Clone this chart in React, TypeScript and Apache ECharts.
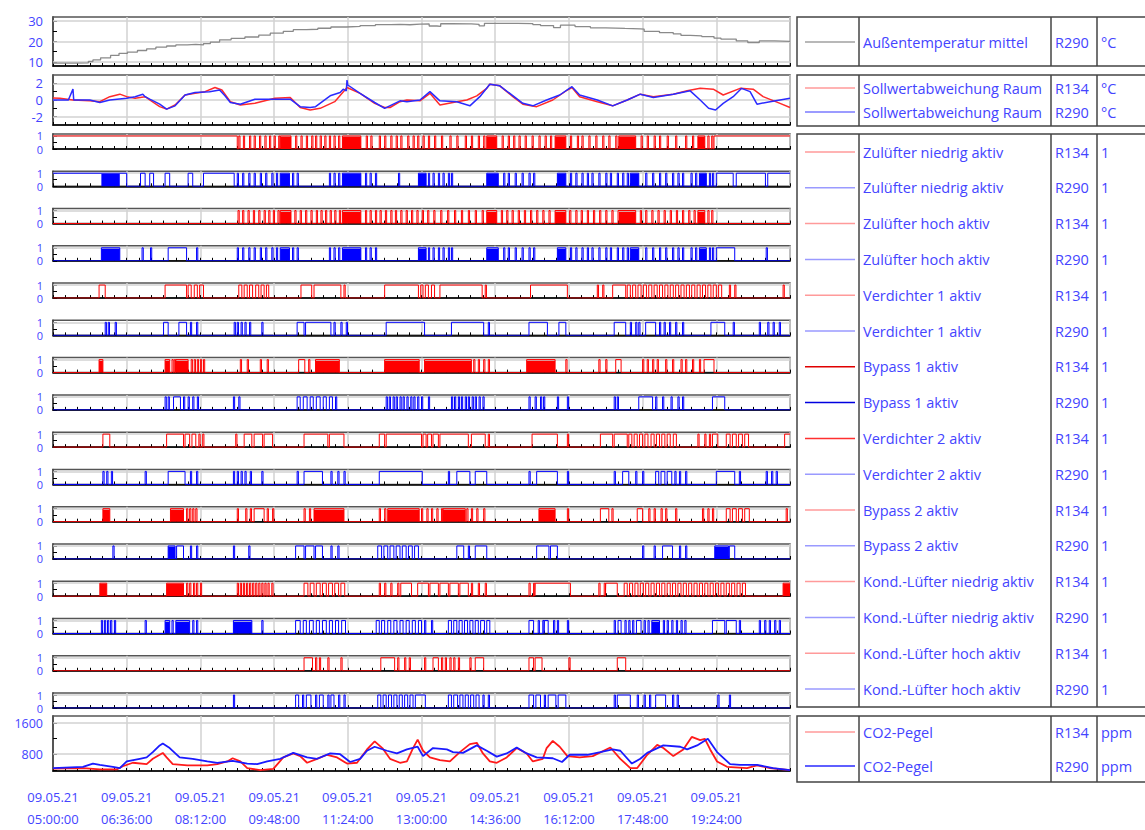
import { useEffect, useRef } from "react";
import * as echarts from "echarts";

// ---------- axis / label data ----------
const DATE_LABEL = "09.05.21";
const TIME_LABELS = ["05:00:00", "06:36:00", "08:12:00", "09:48:00", "11:24:00", "13:00:00", "14:36:00", "16:12:00", "17:48:00", "19:24:00", "21:00:00"];
const X_MIN = 0; // minutes after 05:00
const X_MAX = 960;
const X_STEP = 96;

// ---------- analog series: [minutes after 05:00, value] ----------
const TEMP_OUT = [[0, 9.4], [30, 9.5], [46, 10.2], [52, 11], [62, 12], [75, 13.2], [86, 14.2], [97, 14.8], [110, 15.6], [122, 16.4], [134, 17.2], [148, 17.8], [160, 18.3], [175, 18.6], [186, 18.3], [196, 19], [205, 19.7], [217, 20.8], [232, 21.5], [250, 22.2], [268, 23.1], [283, 24.1], [300, 25], [313, 25.8], [330, 26], [345, 26.5], [362, 27.1], [382, 27.4], [400, 27.8], [420, 28.3], [440, 28.4], [452, 28.2], [465, 28.5], [478, 28.6], [490, 27.6], [500, 27.4], [505, 28.7], [520, 28.6], [545, 28.4], [555, 27.7], [562, 28.9], [585, 28.9], [605, 28.8], [625, 28.3], [635, 27.8], [652, 26.8], [661, 28], [680, 27.3], [700, 26.7], [720, 26.4], [745, 26.2], [765, 26.1], [770, 25], [790, 24.3], [808, 23.7], [818, 23], [830, 22.8], [845, 22.4], [861, 21.7], [870, 21.2], [890, 20.3], [905, 19.5], [920, 20.3], [940, 20.1], [960, 20.2]];

const DEV_R134 = [[0, 0.24], [9, 0.2], [26, 0], [48, -0.1], [61, -0.2], [74, 0.4], [87, 0.7], [96, 0.4], [107, 0.2], [120, 0.4], [126, 0], [139, -0.8], [148, -1.1], [159, -0.6], [172, 0.6], [185, 0.8], [198, 1.0], [211, 1.5], [220, 1.2], [231, -0.2], [244, -0.6], [263, -0.4], [289, 0.2], [309, 0.3], [322, -0.9], [335, -1.2], [348, -1.0], [367, -0.2], [383, 1.5], [400, 0.8], [419, -0.4], [432, -0.9], [439, -0.9], [452, -0.2], [461, 0], [478, -0.1], [491, 0.8], [504, -0.6], [526, -0.2], [539, 0], [552, 0.5], [565, 1.4], [569, 1.9], [582, 1.7], [599, 0.4], [612, -0.5], [630, -0.8], [651, 0], [670, 1.2], [676, 1.5], [686, 0.4], [709, -0.2], [729, -0.7], [748, 0], [765, 0.7], [782, 0.4], [808, 0.7], [826, 1.1], [843, 1.4], [860, 1.3], [873, 0.6], [895, 1.4], [912, 1.3], [925, 0.4], [947, -0.4], [960, -0.9]];

const DEV_R290 = [[0, 0], [20, 0], [26, 1.3], [27, 0], [48, 0], [61, -0.3], [74, 0], [96, 0.2], [107, 0.4], [117, 0.7], [120, 0.4], [126, 0.1], [139, -0.5], [148, -1.1], [159, -0.7], [172, 0.6], [185, 0.9], [204, 1.0], [217, 1.2], [224, 0.5], [231, -0.3], [244, -0.5], [263, 0.1], [289, 0.1], [309, 0.1], [322, -0.8], [335, -0.9], [342, -0.8], [361, 0.5], [374, 0.9], [378, 1.3], [382, 1.1], [383, 2.4], [384, 1.8], [400, 0.8], [419, -0.3], [432, -1.0], [452, -0.1], [461, -0.2], [478, 0], [491, 1.0], [504, -0.1], [526, -0.2], [543, -0.7], [556, 0.4], [569, 1.9], [582, 1.7], [612, -0.4], [625, -0.7], [643, 0], [660, 0.6], [676, 1.6], [686, 0.6], [709, 0], [729, -0.7], [748, 0], [765, 0.7], [782, 0.3], [808, 0.7], [830, 1.1], [843, 0], [854, -1.0], [863, -1.2], [873, -0.4], [886, 0.4], [897, 1.4], [908, 1.0], [917, -0.5], [934, -0.2], [960, 0.2]];

const CO2_R134 = [[0, 431], [39, 445], [61, 410], [83, 410], [91, 492], [104, 581], [122, 547], [130, 683], [139, 786], [143, 834], [148, 718], [156, 547], [175, 513], [201, 513], [214, 547], [227, 615], [234, 697], [244, 615], [253, 445], [270, 390], [287, 424], [300, 718], [313, 820], [322, 752], [331, 581], [344, 683], [357, 786], [370, 718], [383, 560], [396, 581], [409, 923], [419, 1128], [429, 958], [439, 683], [452, 581], [461, 615], [469, 958], [475, 1175], [482, 889], [491, 718], [504, 649], [517, 615], [530, 855], [543, 1060], [552, 1094], [560, 820], [569, 615], [578, 581], [591, 718], [604, 958], [617, 820], [625, 615], [638, 683], [643, 958], [651, 1142], [660, 992], [670, 752], [686, 718], [703, 752], [726, 972], [739, 683], [752, 445], [761, 445], [774, 786], [787, 1040], [795, 958], [808, 752], [821, 923], [832, 1244], [843, 1162], [849, 1196], [856, 923], [865, 615], [878, 477], [904, 445], [917, 513], [934, 445], [960, 390]];

const CO2_R290 = [[0, 445], [39, 477], [52, 560], [61, 526], [78, 477], [87, 445], [96, 615], [113, 683], [122, 718], [130, 855], [139, 1026], [143, 1073], [152, 958], [165, 718], [182, 683], [201, 615], [214, 581], [234, 629], [253, 560], [266, 547], [279, 615], [296, 683], [313, 834], [331, 718], [344, 683], [361, 820], [374, 800], [387, 601], [400, 683], [409, 889], [419, 992], [435, 889], [448, 820], [461, 923], [475, 992], [482, 752], [495, 958], [513, 923], [521, 855], [534, 834], [552, 1026], [565, 889], [578, 738], [591, 820], [604, 972], [617, 820], [630, 718], [651, 697], [663, 601], [673, 786], [696, 786], [713, 855], [729, 923], [739, 889], [754, 560], [765, 683], [774, 834], [795, 1026], [817, 992], [826, 923], [839, 1026], [853, 1196], [865, 855], [882, 547], [895, 526], [917, 526], [938, 445], [960, 390]];

// ---------- binary series: on-intervals, short pulses (start times), dense bursts ----------
const ZUL_NIEDRIG_R134 = {
  on: [[0, 240], [861, 960]],
  pulses: [242, 248, 256, 262, 269, 276, 282, 288, 294, 316, 323, 330, 337, 342, 348, 354, 360, 366, 372, 408, 414, 425, 432, 440, 447, 453, 462, 469, 475, 482, 489, 497, 506, 517, 526, 537, 545, 554, 561, 585, 593, 600, 607, 615, 624, 633, 641, 648, 674, 683, 689, 698, 707, 716, 724, 733, 766, 774, 783, 790, 800, 811, 824, 833, 853, 858],
  dense: [[296, 310], [377, 401], [565, 578], [654, 668], [737, 759], [840, 849]],
};
const ZUL_NIEDRIG_R290 = {
  on: [[0, 63], [87, 96], [114, 120], [126, 131], [146, 152], [176, 182], [196, 236], [864, 886], [890, 928], [931, 960]],
  pulses: [240, 247, 255, 262, 270, 277, 285, 291, 312, 318, 360, 366, 372, 407, 413, 420, 450, 489, 495, 502, 508, 515, 519, 587, 593, 602, 611, 620, 626, 674, 681, 689, 696, 702, 711, 720, 726, 735, 742, 748, 772, 781, 790, 798, 807, 814, 820, 831, 837, 855, 859],
  dense: [[63, 87], [296, 308], [377, 401], [476, 486], [565, 580], [657, 668], [752, 763], [842, 851]],
};
const ZUL_HOCH_R134 = {
  on: [],
  pulses: [241, 247, 254, 261, 268, 275, 281, 287, 293, 315, 322, 329, 336, 343, 349, 355, 361, 367, 373, 407, 413, 420, 426, 433, 440, 446, 453, 460, 467, 474, 481, 488, 496, 505, 514, 523, 532, 541, 550, 559, 584, 591, 598, 606, 614, 622, 630, 638, 646, 673, 681, 688, 696, 704, 712, 720, 728, 736, 765, 772, 780, 788, 796, 804, 812, 820, 828, 835, 853, 858],
  dense: [[296, 310], [377, 401], [565, 578], [654, 668], [737, 759], [840, 849]],
};
const ZUL_HOCH_R290 = {
  on: [[150, 174], [864, 888]],
  pulses: [116, 127, 187, 240, 247, 255, 262, 270, 277, 285, 291, 312, 318, 360, 366, 372, 407, 413, 420, 489, 495, 502, 508, 515, 519, 587, 593, 602, 611, 620, 626, 674, 681, 689, 696, 702, 711, 720, 726, 735, 742, 748, 772, 781, 790, 798, 807, 814, 820, 831, 837, 855, 859, 929],
  dense: [[63, 87], [296, 308], [377, 401], [476, 486], [565, 580], [657, 668], [752, 763], [842, 851]],
};
const VERD1_R134 = {
  on: [[60, 68], [146, 174], [176, 180], [184, 188], [191, 196], [242, 246], [249, 253], [256, 260], [264, 268], [271, 275], [278, 281], [323, 337], [340, 375], [432, 476], [479, 482], [485, 489], [493, 497], [504, 559], [622, 670], [729, 746], [748, 752], [755, 759], [762, 766], [769, 773], [776, 780], [783, 787], [790, 794], [797, 801], [804, 808], [811, 815], [818, 822], [825, 829], [832, 836], [839, 843], [846, 850], [853, 857], [860, 864], [867, 871]],
  pulses: [379, 563, 709, 716, 881, 888, 951],
  dense: [],
};
const VERD1_R290 = {
  on: [[144, 150], [164, 174], [318, 327], [329, 362], [434, 484], [519, 561], [620, 644], [659, 668], [731, 746], [772, 785], [857, 875]],
  pulses: [68, 72, 81, 179, 187, 236, 240, 245, 250, 256, 272, 366, 375, 382, 567, 752, 759, 763, 790, 796, 803, 811, 820, 886, 920, 931, 938, 946],
  dense: [],
};
const BYP1_R134 = {
  on: [[320, 328], [733, 740], [848, 861]],
  pulses: [155, 158, 180, 184, 188, 192, 196, 244, 253, 270, 279, 333, 548, 554, 561, 567, 668, 711, 720, 768, 774, 781, 787, 798, 807, 818, 824, 833, 842],
  dense: [[60, 65], [146, 152], [160, 176], [342, 373], [432, 477], [484, 545], [617, 654]],
};
const BYP1_R290 = {
  on: [[157, 166], [318, 322], [326, 331], [335, 339], [343, 348], [352, 356], [360, 364], [763, 781], [859, 875]],
  pulses: [146, 150, 170, 176, 182, 188, 235, 242, 368, 434, 438, 443, 447, 452, 456, 461, 466, 470, 475, 480, 489, 519, 523, 528, 532, 537, 541, 546, 550, 555, 560, 620, 628, 635, 639, 657, 670, 731, 735, 785, 794, 805, 814, 820],
  dense: [],
};
const VERD2_R134 = {
  on: [[65, 74], [148, 170], [172, 178], [181, 186], [249, 259], [262, 273], [275, 286], [327, 358], [360, 379], [425, 432], [434, 480], [482, 486], [488, 493], [495, 502], [504, 541], [545, 563], [624, 657], [713, 729], [731, 748], [750, 754], [757, 761], [764, 768], [771, 775], [779, 783], [786, 790], [793, 797], [800, 804], [808, 812], [859, 866], [877, 882], [885, 890], [893, 898], [901, 906], [953, 960]],
  pulses: [190, 195, 238, 567, 670, 840, 849, 855],
  dense: [],
};
const VERD2_R290 = {
  on: [[150, 172], [327, 351], [425, 481], [526, 543], [550, 565], [630, 657], [742, 750], [785, 789], [792, 797], [800, 806], [864, 888]],
  pulses: [65, 70, 76, 120, 179, 187, 235, 240, 245, 250, 257, 272, 318, 362, 371, 379, 515, 620, 670, 731, 759, 768, 810, 816, 824, 894, 929, 936, 942],
  dense: [],
};
const BYP2_R134 = {
  on: [[262, 275], [713, 724], [761, 768], [877, 882], [885, 890], [893, 898], [901, 907]],
  pulses: [174, 178, 182, 186, 240, 251, 257, 279, 286, 327, 334, 425, 432, 480, 487, 493, 500, 506, 539, 545, 552, 561, 670, 728, 776, 783, 792, 798, 811, 846, 853, 859, 955],
  dense: [[65, 74], [153, 170], [340, 379], [436, 477], [508, 537], [633, 654]],
};
const BYP2_R290 = {
  on: [[161, 170], [316, 327], [329, 340], [342, 351], [423, 428], [431, 436], [439, 444], [447, 452], [455, 460], [463, 468], [471, 476], [526, 535], [550, 565], [630, 646], [648, 657], [794, 807], [881, 888]],
  pulses: [78, 179, 187, 235, 255, 362, 371, 541, 768, 783, 816, 824],
  dense: [[150, 159], [862, 880]],
};
const KOND_N_R134 = {
  on: [[327, 332], [335, 340], [343, 348], [351, 356], [359, 364], [367, 372], [375, 380], [453, 467], [476, 489], [491, 502], [504, 515], [517, 528], [530, 541], [628, 674], [720, 735], [744, 748], [751, 755], [758, 762], [765, 769], [772, 776], [779, 783], [786, 790], [793, 797], [800, 804], [807, 811], [814, 818], [821, 825], [828, 832], [835, 839], [842, 846], [849, 853], [856, 860], [863, 867], [870, 874], [877, 881], [884, 888], [891, 895], [898, 902]],
  pulses: [174, 178, 183, 187, 192, 240, 244, 248, 252, 256, 260, 264, 268, 272, 276, 280, 285, 425, 432, 440, 449, 475, 545, 554, 563, 620, 626, 711, 718],
  dense: [[61, 70], [148, 170], [951, 960]],
};
const KOND_N_R290 = {
  on: [[316, 322], [326, 330], [334, 339], [343, 347], [351, 356], [360, 364], [368, 372], [376, 381], [421, 425], [428, 432], [436, 440], [444, 448], [452, 456], [460, 464], [468, 472], [476, 480], [515, 519], [522, 526], [529, 533], [536, 540], [543, 547], [550, 554], [557, 562], [565, 569], [620, 626], [640, 645], [736, 740], [760, 766], [859, 875], [877, 890]],
  pulses: [63, 67, 71, 75, 80, 120, 155, 182, 187, 272, 484, 493, 632, 638, 652, 657, 670, 731, 745, 750, 755, 770, 775, 795, 800, 806, 812, 818, 823, 894, 920, 927, 933, 940, 946],
  dense: [[146, 152], [160, 178], [235, 259], [780, 790]],
};
const KOND_H_R134 = {
  on: [[327, 338], [427, 445], [495, 502], [550, 561], [620, 626], [628, 637], [735, 746]],
  pulses: [342, 347, 358, 375, 449, 458, 464, 484, 506, 511, 517, 522, 528, 543, 672],
  dense: [],
};
const KOND_H_R290 = {
  on: [[316, 320], [330, 336], [347, 352], [362, 366], [423, 427], [430, 434], [437, 441], [444, 448], [451, 455], [458, 462], [465, 469], [472, 485], [515, 519], [522, 527], [530, 534], [537, 541], [544, 548], [551, 555], [620, 626], [629, 635], [645, 655], [658, 668], [735, 752], [785, 798]],
  pulses: [235, 325, 342, 358, 372, 379, 560, 567, 640, 731, 761, 770, 777, 807, 813, 866, 881],
  dense: [],
};

const BINARY_NAMES = ["Zulüfter niedrig aktiv", "Zulüfter niedrig aktiv", "Zulüfter hoch aktiv", "Zulüfter hoch aktiv", "Verdichter 1 aktiv", "Verdichter 1 aktiv", "Bypass 1 aktiv", "Bypass 1 aktiv", "Verdichter 2 aktiv", "Verdichter 2 aktiv", "Bypass 2 aktiv", "Bypass 2 aktiv", "Kond.-Lüfter niedrig aktiv", "Kond.-Lüfter niedrig aktiv", "Kond.-Lüfter hoch aktiv", "Kond.-Lüfter hoch aktiv"];
const BINARY_PLANTS = ["R134", "R290", "R134", "R290", "R134", "R290", "R134", "R290", "R134", "R290", "R134", "R290", "R134", "R290", "R134", "R290"];
const BINARY_DATA = [ZUL_NIEDRIG_R134, ZUL_NIEDRIG_R290, ZUL_HOCH_R134, ZUL_HOCH_R290, VERD1_R134, VERD1_R290, BYP1_R134, BYP1_R290, VERD2_R134, VERD2_R290, BYP2_R134, BYP2_R290, KOND_N_R134, KOND_N_R290, KOND_H_R134, KOND_H_R290];

// ---------- styling ----------
const RED = "#ff0000";
const BLUE = "#0000ff";
const TXT = "#4444ff";
const FONT = "Open Sans";
const LEGEND_LINE_COLORS = ["#ff9a9a", "#9a9aff", "#ff9a9a", "#9a9aff", "#ff9a9a", "#9a9aff", "#e00000", "#0000e0", "#ff3030", "#9a9aff", "#ff9a9a", "#9a9aff", "#ff9a9a", "#9a9aff", "#ff9a9a", "#9a9aff"];
const PULSE_W = 1.6;

function toSteps(s: { on: number[][]; pulses: number[]; dense: number[][] }) {
  const iv = [...s.on, ...s.dense, ...s.pulses.map((t) => [t, t + PULSE_W])]
    .map((a) => [a[0], a[1]])
    .sort((a, b) => a[0] - b[0]);
  const merged: number[][] = [];
  for (const [a, b] of iv) {
    const last = merged[merged.length - 1];
    if (last && a <= last[1]) last[1] = Math.max(last[1], b);
    else merged.push([a, b]);
  }
  const pts: number[][] = [];
  if (!merged.length || merged[0][0] > X_MIN) pts.push([X_MIN, 0]);
  for (const [a, b] of merged) {
    if (a <= X_MIN) pts.push([X_MIN, 1]);
    else pts.push([a, 0], [a, 1]);
    const e = Math.min(b, X_MAX);
    pts.push([e, 1]);
    if (e < X_MAX) pts.push([e, 0]);
  }
  if (!merged.length || merged[merged.length - 1][1] < X_MAX) pts.push([X_MAX, 0]);
  return pts;
}

export default function App() {
  const ref = useRef<HTMLDivElement>(null);

  useEffect(() => {
    if (!ref.current) return;
    const chart = echarts.init(ref.current, undefined, { renderer: "svg" });

    const GL = 53;
    const GW = 737;
    const grids: { top: number; height: number }[] = [
      { top: 17, height: 49 },
      { top: 75, height: 50 },
    ];
    for (let i = 0; i < 16; i++) grids.push({ top: 134 + 37.27 * i, height: 15 });
    grids.push({ top: 716, height: 66 });
    const last = grids.length - 1;

    const axisFont = { color: TXT, fontFamily: FONT, fontSize: 13 };

    const xAxes = grids.map((_, i) => ({
      gridIndex: i,
      type: "value",
      min: X_MIN,
      max: X_MAX,
      interval: X_STEP,
      axisLine: { show: true, onZero: false, lineStyle: { color: "#000", width: 1.5 } },
      axisTick: { show: true, inside: true, length: 3, lineStyle: { color: "#000" } },
      minorTick: { show: true, splitNumber: 6, length: 3, lineStyle: { color: "#000" } },
      splitLine: { show: true, lineStyle: { color: "#d2d2d2", width: 1.5 } },
      axisLabel: {
        show: i === last,
        showMaxLabel: false,
        margin: 15,
        lineHeight: 22,
        ...axisFont,
        formatter: (v: number) => `${DATE_LABEL}\n${TIME_LABELS[Math.round(v / X_STEP)]}`,
      },
    }));

    const yBase = (i: number, min: number, max: number, labels: number[], ticks: number[], fontSize = 13) => ({
      gridIndex: i,
      type: "value",
      min,
      max,
      axisLine: { show: true, lineStyle: { color: "#333", width: 1.5 } },
      axisTick: { show: true, inside: true, length: 4, customValues: ticks, lineStyle: { color: "#000" } },
      axisLabel: { show: true, margin: 10, customValues: labels, ...axisFont, fontSize, lineHeight: fontSize, formatter: (v: number) => String(v) },
      splitLine: { show: false },
    });

    const yAxes: any[] = [
      yBase(0, 8, 32, [10, 20, 30], [10, 15, 20, 25, 30]),
      yBase(1, -3, 3, [-2, 0, 2], [-2, -1, 0, 1, 2]),
    ];
    for (let i = 0; i < 16; i++) yAxes.push(yBase(2 + i, 0, 1.15, [0, 1], [0, 0.5, 1], 11));
    yAxes.push(yBase(last, 370, 1780, [800, 1600], [400, 800, 1200, 1600], 12.5));

    const gridLines = (vals: number[]) => ({
      silent: true,
      symbol: "none",
      z: 1,
      label: { show: false },
      lineStyle: { color: "#d2d2d2", width: 1.5, type: "solid" },
      data: vals.map((v) => ({ yAxis: v })),
    });

    const series: any[] = [
      {
        type: "line",
        xAxisIndex: 0,
        yAxisIndex: 0,
        data: TEMP_OUT,
        step: "end",
        showSymbol: false,
        lineStyle: { color: "#8a8a8a", width: 1.3 },
        markLine: gridLines([10, 20, 30]),
        z: 3,
      },
      {
        type: "line",
        xAxisIndex: 1,
        yAxisIndex: 1,
        data: DEV_R134,
        showSymbol: false,
        lineStyle: { color: "#ff2a2a", width: 1.5 },
        markLine: gridLines([-2, 0, 2]),
        z: 3,
      },
      {
        type: "line",
        xAxisIndex: 1,
        yAxisIndex: 1,
        data: DEV_R290,
        showSymbol: false,
        lineStyle: { color: "#2a2aff", width: 1.5 },
        z: 3,
      },
    ];
    BINARY_DATA.forEach((d, i) => {
      const color = i % 2 === 0 ? RED : BLUE;
      series.push({
        type: "line",
        xAxisIndex: 2 + i,
        yAxisIndex: 2 + i,
        data: toSteps(d),
        showSymbol: false,
        lineStyle: { color, width: 1 },
        markLine: gridLines([1]),
        markArea: {
          silent: true,
          itemStyle: { color, opacity: 1 },
          data: d.dense.map(([a, b]) => [{ xAxis: a, yAxis: 0 }, { xAxis: b, yAxis: 1 }]),
        },
        z: 3,
      });
    });
    series.push(
      {
        type: "line",
        xAxisIndex: last,
        yAxisIndex: last,
        data: CO2_R134,
        showSymbol: false,
        lineStyle: { color: "#ff1a1a", width: 1.8 },
        markLine: gridLines([800, 1600]),
        z: 3,
      },
      {
        type: "line",
        xAxisIndex: last,
        yAxisIndex: last,
        data: CO2_R290,
        showSymbol: false,
        lineStyle: { color: "#1a1aff", width: 1.8 },
        z: 4,
      }
    );

    // ---------- legend tables (graphic) ----------
    const graphic: any[] = [];
    const COL_X = [797, 859, 1051, 1097];
    const box = (top: number, bottom: number) => {
      graphic.push({
        type: "rect",
        shape: { x: COL_X[0], y: top, width: 360, height: bottom - top },
        style: { fill: "#fff", stroke: "#444", lineWidth: 1.5 },
        z: 10,
      });
      for (const x of COL_X.slice(1)) {
        graphic.push({
          type: "line",
          shape: { x1: x, y1: top, x2: x, y2: bottom },
          style: { stroke: "#444", lineWidth: 1.5 },
          z: 11,
        });
      }
    };
    const row = (y: number, color: string, name: string, plant: string, unit: string) => {
      graphic.push({
        type: "line",
        shape: { x1: 805, y1: y, x2: 855, y2: y },
        style: { stroke: color, lineWidth: 1.5 },
        z: 12,
      });
      const t = (x: number, text: string) =>
        graphic.push({
          type: "text",
          x,
          y,
          style: { text, fill: TXT, fontFamily: FONT, fontSize: 14.5, verticalAlign: "middle", align: "left" },
          z: 12,
        });
      t(863, name);
      t(1055, plant);
      t(1101, unit);
    };
    box(17, 66);
    row(42, "#a0a0a0", "Außentemperatur mittel", "R290", "°C");
    box(75, 126);
    row(88, "#ff9a9a", "Sollwertabweichung Raum", "R134", "°C");
    row(112, "#7a7aff", "Sollwertabweichung Raum", "R290", "°C");
    box(134, 707);
    BINARY_NAMES.forEach((n, i) => row(152 + 35.8 * i, LEGEND_LINE_COLORS[i], n, BINARY_PLANTS[i], "1"));
    box(716, 782);
    row(732, "#ff9a9a", "CO2-Pegel", "R134", "ppm");
    row(766, "#2a2aff", "CO2-Pegel", "R290", "ppm");

    chart.setOption({
      animation: false,
      backgroundColor: "#fff",
      grid: grids.map((g) => ({
        left: GL,
        width: GW,
        top: g.top,
        height: g.height,
        show: true,
        backgroundColor: "#fff",
        borderColor: "#555",
        borderWidth: 1.5,
      })),
      xAxis: xAxes,
      yAxis: yAxes,
      series,
      graphic,
    });

    return () => chart.dispose();
  }, []);

  return <div ref={ref} style={{ position: "fixed", left: 0, top: 0, width: 1145, height: 830 }} />;
}
